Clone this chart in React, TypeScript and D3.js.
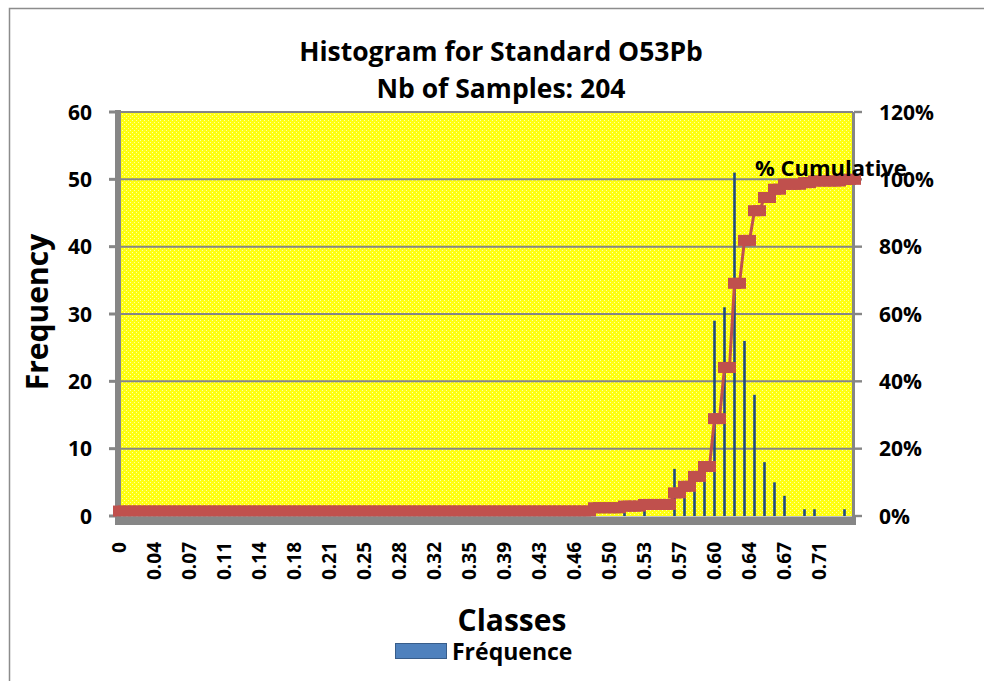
import React from 'react';
import * as d3 from 'd3';

// histogram classes: 148 bins starting at 0, every 7th bin gets a label
const classCount = 148;
const labelEvery = 7;
const classLabels = [
  '0', '0.04', '0.07', '0.11', '0.14', '0.18', '0.21', '0.25', '0.28', '0.32', '0.35',
  '0.39', '0.43', '0.46', '0.50', '0.53', '0.57', '0.60', '0.64', '0.67', '0.71',
];

// non-empty bins (bin index -> frequency)
const binIndex = [0, 95, 101, 105, 111, 113, 115, 117, 119, 121, 123, 125, 127, 129, 131, 133, 137, 139, 145];
const binCount = [3, 2, 1, 1, 7, 4, 6, 6, 29, 31, 51, 26, 18, 8, 5, 3, 1, 1, 1];

const freqTicks = [0, 10, 20, 30, 40, 50, 60];
const pctTicks = [0, 0.2, 0.4, 0.6, 0.8, 1, 1.2];

const FONT = '"Open Sans", Lato, sans-serif';

export default function App() {
  const width = 984;
  const height = 681;
  const plot = { left: 121, right: 853, top: 112, bottom: 516 };

  const classes = d3.range(classCount);
  const freq = classes.map(() => 0);
  binIndex.forEach((b, i) => {
    freq[b] = binCount[i];
  });
  const total = d3.sum(freq);
  const cum = Array.from(d3.cumsum(freq), (c) => c / total);

  const x = d3.scaleBand<number>().domain(classes).range([117, 857]);
  const xc = (i: number) => (x(i) as number) + x.bandwidth() / 2;
  const y = d3.scaleLinear().domain([0, 60]).range([plot.bottom, plot.top]);
  const y2 = d3.scaleLinear().domain([0, 1.2]).range([plot.bottom, plot.top]);

  const line = d3
    .line<number>()
    .x((_, i) => xc(i))
    .y((d) => y2(d));

  const grey = '#868686';

  return (
    <svg
      width={width}
      height={height}
      style={{ position: 'absolute', left: 0, top: 0, background: '#fff' }}
    >
      <defs>
        <pattern id="dots" width="4" height="4" patternUnits="userSpaceOnUse">
          <rect width="4" height="4" fill="#ffff10" />
          <rect x="0" y="0" width="1" height="1" fill="#ffffa8" />
          <rect x="2" y="2" width="1" height="1" fill="#ffffa8" />
        </pattern>
      </defs>

      {/* chart area border */}
      <rect x={9.5} y={8.5} width={1000} height={700} fill="none" stroke="#8c8c8c" strokeWidth={1.5} />

      {/* plot background */}
      <rect
        x={plot.left}
        y={plot.top}
        width={plot.right - plot.left}
        height={plot.bottom - plot.top}
        fill="url(#dots)"
      />

      {/* gridlines */}
      {freqTicks.slice(1).map((t) => (
        <line key={t} x1={plot.left} x2={plot.right} y1={y(t)} y2={y(t)} stroke={grey} strokeWidth={2} />
      ))}

      {/* frequency bars */}
      {classes.map((i) =>
        freq[i] > 0 ? (
          <rect
            key={i}
            x={xc(i) - 1.3}
            y={y(freq[i])}
            width={2.6}
            height={plot.bottom - y(freq[i])}
            fill="#1f4a86"
          />
        ) : null,
      )}

      {/* left axis */}
      <rect x={115} y={110} width={6} height={415} fill={grey} />
      {freqTicks.map((t) => (
        <rect key={t} x={109} y={y(t) - 1.5} width={8} height={3} fill={grey} />
      ))}
      {freqTicks.map((t) => (
        <text
          key={t}
          x={92}
          y={y(t)}
          dy="0.36em"
          textAnchor="end"
          fontFamily={FONT}
          fontWeight="bold"
          fontSize={21}
        >
          {t}
        </text>
      ))}

      {/* right axis */}
      <rect x={852} y={112} width={3} height={410} fill={grey} />
      {pctTicks.map((t) => (
        <rect key={t} x={854} y={y2(t) - 1.2} width={8} height={2.4} fill={grey} />
      ))}
      {pctTicks.map((t) => (
        <text
          key={t}
          x={879}
          y={y2(t)}
          dy="0.36em"
          fontFamily={FONT}
          fontWeight="bold"
          fontSize={21}
        >
          {d3.format('.0%')(t)}
        </text>
      ))}

      {/* cumulative line */}
      <path d={line(cum) || ''} fill="none" stroke="#c0504d" strokeWidth={3} />
      {cum.map((c, i) => (
        <rect key={i} x={xc(i) - 6.5} y={y2(c) - 5.5} width={13} height={11} fill="#c0504d" />
      ))}

      {/* bottom axis */}
      <rect x={117} y={516.5} width={739} height={8.5} fill={grey} />

      {/* class labels */}
      {classLabels.map((lab, k) => {
        const cx = xc(k * labelEvery);
        return (
          <text
            key={lab}
            transform={`translate(${cx},542) rotate(-90)`}
            dy="0.36em"
            textAnchor="end"
            fontFamily={FONT}
            fontWeight="bold"
            fontSize={19}
          >
            {lab}
          </text>
        );
      })}

      {/* data label */}
      <text x={755} y={176} fontFamily={FONT} fontWeight="bold" fontSize={22}>
        % Cumulative
      </text>

      {/* titles */}
      <text x={501} y={61} textAnchor="middle" fontFamily={FONT} fontWeight="bold" fontSize={26.5}>
        Histogram for Standard O53Pb
      </text>
      <text x={501} y={98} textAnchor="middle" fontFamily={FONT} fontWeight="bold" fontSize={26.5}>
        Nb of Samples: 204
      </text>
      <text
        transform="translate(48,312) rotate(-90)"
        textAnchor="middle"
        fontFamily={FONT}
        fontWeight="bold"
        fontSize={30}
      >
        Frequency
      </text>
      <text x={512} y={631} textAnchor="middle" fontFamily={FONT} fontWeight="bold" fontSize={30}>
        Classes
      </text>

      {/* legend */}
      <rect x={395.5} y={643.5} width={51} height={15} fill="#4f81bd" stroke="#385d8a" strokeWidth={1} />
      <text x={452} y={660} fontFamily={FONT} fontWeight="bold" fontSize={23}>
        Fréquence
      </text>
    </svg>
  );
}
